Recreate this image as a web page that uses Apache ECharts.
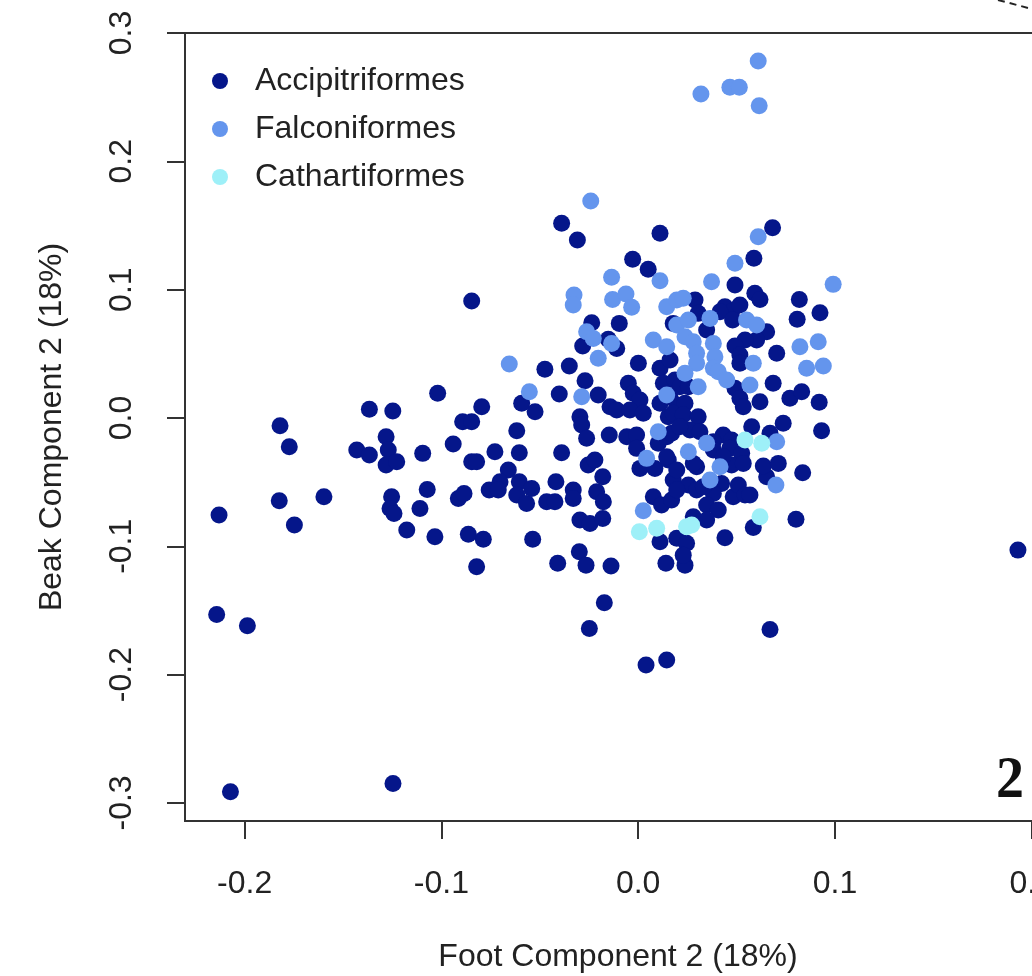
<!DOCTYPE html>
<html>
<head>
<meta charset="utf-8">
<script src="https://cdn.jsdelivr.net/npm/echarts@6/dist/echarts.min.js"></script>
<style>
  html, body { margin: 0; padding: 0; background: #fff; }
  #chart { width: 1032px; height: 976px; }
</style>
</head>
<body>
<div id="chart"></div>
<script>
// tick positions
var xTicks = [-0.2, -0.1, 0.0, 0.1, 0.2];
var yTicks = [-0.3, -0.2, -0.1, 0.0, 0.1, 0.2, 0.3];

// [foot component 2, beak component 2]
var accipitriformes = [
  [-0.0389, 0.1517], [-0.0309, 0.1387], [0.0111, 0.1439], [0.0683, 0.1482],
  [-0.0846, 0.0911], [-0.1019, 0.0192], [-0.1366, 0.0067], [-0.1247, 0.0054], [-0.0795, 0.0087],
  [-0.1820, -0.0061], [-0.1773, -0.0224], [-0.0892, -0.0030], [-0.0846, -0.0030],
  [-0.1430, -0.0250], [-0.1366, -0.0289], [-0.1281, -0.0147], [-0.1270, -0.0250], [-0.1281, -0.0367], [-0.1227, -0.0341],
  [-0.1095, -0.0276], [-0.0940, -0.0203], [-0.0846, -0.0341], [-0.0821, -0.0341],
  [-0.1824, -0.0645], [-0.1597, -0.0614], [-0.2130, -0.0757], [-0.1747, -0.0835],
  [-0.1253, -0.0614], [-0.1261, -0.0705], [-0.1241, -0.0744], [-0.1072, -0.0557], [-0.1109, -0.0705],
  [-0.0914, -0.0627], [-0.0885, -0.0588], [-0.1176, -0.0874], [-0.1033, -0.0926], [-0.0863, -0.0907], [-0.0787, -0.0946],
  [-0.0821, -0.1160], [-0.2142, -0.1531], [-0.1986, -0.1620], [-0.0757, -0.0562],
  [-0.2072, -0.2913], [-0.1246, -0.2848],
  [-0.0028, 0.1236], [0.0051, 0.1158], [-0.0236, 0.0742], [-0.0096, 0.0737], [-0.0152, 0.0613], [-0.0109, 0.0542], [-0.0282, 0.0560],
  [0.0178, 0.0737], [-0.0474, 0.0379], [-0.0350, 0.0405], [0.0001, 0.0426], [0.0111, 0.0387], [0.0162, 0.0451],
  [-0.0270, 0.0290], [-0.0050, 0.0270], [0.0128, 0.0270], [0.0187, 0.0295],
  [-0.0592, 0.0114], [-0.0524, 0.0048], [-0.0401, 0.0186], [-0.0203, 0.0178], [-0.0025, 0.0192], [0.0009, 0.0140],
  [-0.0143, 0.0087], [-0.0109, 0.0062], [-0.0042, 0.0062], [0.0026, 0.0036], [-0.0296, 0.0009], [-0.0287, -0.0055],
  [0.0111, 0.0114], [0.0162, 0.0165], [0.0153, 0.0009], [-0.0617, -0.0100], [-0.0262, -0.0159], [-0.0147, -0.0133],
  [-0.0058, -0.0147], [-0.0008, -0.0133], [0.0145, -0.0147],
  [0.0588, 0.1244], [0.0492, 0.1036], [0.0593, 0.0971], [0.0619, 0.0924], [0.0819, 0.0924], [0.0924, 0.0820], [0.0808, 0.0769],
  [0.0289, 0.0919], [0.0441, 0.0867], [0.0475, 0.0828], [0.0416, 0.0828], [0.0480, 0.0763], [0.0305, 0.0815], [0.0517, 0.0880],
  [0.0348, 0.0685], [0.0653, 0.0672], [0.0602, 0.0607], [0.0543, 0.0607], [0.0492, 0.0560], [0.0704, 0.0504], [0.0517, 0.0490], [0.0517, 0.0426],
  [0.0212, 0.0243], [0.0255, 0.0243], [0.0686, 0.0270], [0.0492, 0.0231], [0.0517, 0.0153], [0.0534, 0.0087], [0.0619, 0.0126],
  [0.0771, 0.0153], [0.0831, 0.0204], [0.0920, 0.0122], [0.0196, 0.0101], [0.0238, 0.0114], [0.0178, 0.0036], [0.0229, 0.0023], [0.0305, 0.0009],
  [0.0263, -0.0094], [0.0314, -0.0108], [0.0737, -0.0042], [0.0577, -0.0069], [0.0932, -0.0100], [0.0432, -0.0133], [0.0475, -0.0172], [0.0670, -0.0120], [0.0382, -0.0186],
  [-0.0008, -0.0237], [0.0102, -0.0198], [0.0170, -0.0120], [0.0212, -0.0069],
  [-0.0728, -0.0263], [-0.0604, -0.0271], [-0.0389, -0.0271], [-0.0254, -0.0367], [-0.0220, -0.0328],
  [-0.0660, -0.0406], [-0.0702, -0.0497], [-0.0711, -0.0562], [-0.0604, -0.0497], [-0.0617, -0.0601], [-0.0567, -0.0666], [-0.0541, -0.0549],
  [-0.0418, -0.0497], [-0.0465, -0.0653], [-0.0423, -0.0653], [-0.0330, -0.0562], [-0.0330, -0.0627],
  [-0.0180, -0.0458], [-0.0211, -0.0575], [-0.0177, -0.0653], [-0.0296, -0.0796], [-0.0245, -0.0822], [-0.0180, -0.0783],
  [0.0009, -0.0393], [0.0085, -0.0393], [0.0153, -0.0328], [0.0178, -0.0484], [0.0077, -0.0614], [0.0119, -0.0679], [0.0170, -0.0640],
  [-0.0536, -0.0946], [0.0111, -0.0965], [0.0196, -0.0938], [-0.0299, -0.1043], [-0.0265, -0.1147], [-0.0409, -0.1133], [-0.0138, -0.1154], [0.0141, -0.1133],
  [-0.0172, -0.1440], [-0.0248, -0.1640], [0.0040, -0.1926], [0.0145, -0.1887],
  [0.0145, -0.0302], [0.0297, -0.0380], [0.0196, -0.0406], [0.0382, -0.0250], [0.0466, -0.0237], [0.0526, -0.0276], [0.0475, -0.0367],
  [0.0280, -0.0354], [0.0432, -0.0302], [0.0534, -0.0354], [0.0653, -0.0458],
  [0.0636, -0.0375], [0.0712, -0.0354], [0.0836, -0.0427], [0.0255, -0.0523], [0.0297, -0.0562], [0.0424, -0.0510], [0.0382, -0.0588],
  [0.0196, -0.0562], [0.0331, -0.0536], [0.0483, -0.0614],
  [0.0509, -0.0523], [0.0543, -0.0601], [0.0568, -0.0601], [0.0348, -0.0679], [0.0407, -0.0718], [0.0280, -0.0770], [0.0348, -0.0796],
  [0.0585, -0.0853], [0.0802, -0.0790], [0.0441, -0.0934], [0.0246, -0.0977], [0.0238, -0.1147], [0.0229, -0.1069], [0.0670, -0.1648],
  [0.1930, -0.1030]
];

var falconiformes = [
  [0.0610, 0.2782], [0.0319, 0.2525], [0.0466, 0.2577], [0.0514, 0.2577], [0.0615, 0.2433],
  [-0.0241, 0.1691], [0.0610, 0.1412], [-0.0135, 0.1096], [0.0111, 0.1069],
  [-0.0326, 0.0958], [-0.0330, 0.0880], [-0.0130, 0.0924], [-0.0062, 0.0966], [-0.0033, 0.0862],
  [0.0145, 0.0867], [0.0196, 0.0919], [-0.0262, 0.0672], [-0.0228, 0.0620], [-0.0135, 0.0581],
  [0.0077, 0.0607], [0.0145, 0.0555], [-0.0203, 0.0465], [-0.0655, 0.0420], [-0.0553, 0.0204],
  [-0.0287, 0.0165], [0.0145, 0.0178], [0.0102, -0.0108],
  [0.0492, 0.1205], [0.0373, 0.1062], [0.0991, 0.1041], [0.0229, 0.0932], [0.0365, 0.0776],
  [0.0196, 0.0724], [0.0255, 0.0763], [0.0551, 0.0763], [0.0602, 0.0724], [0.0238, 0.0633],
  [0.0280, 0.0594], [0.0382, 0.0581], [0.0822, 0.0555], [0.0915, 0.0594], [0.0585, 0.0426],
  [0.0297, 0.0504], [0.0297, 0.0426], [0.0390, 0.0477], [0.0382, 0.0387], [0.0856, 0.0387],
  [0.0941, 0.0405], [0.0238, 0.0348], [0.0407, 0.0360], [0.0450, 0.0295], [0.0305, 0.0243],
  [0.0568, 0.0256], [0.0704, -0.0186], [0.0043, -0.0315], [0.0026, -0.0723], [0.0348, -0.0198],
  [0.0255, -0.0263], [0.0416, -0.0380], [0.0700, -0.0523], [0.0365, -0.0484]
];

var cathartiformes = [
  [0.0543, -0.0172], [0.0628, -0.0198], [0.0006, -0.0887], [0.0094, -0.0860],
  [0.0272, -0.0835], [0.0246, -0.0848], [0.0619, -0.0770]
];

var font = "'Liberation Sans', Arial, sans-serif";
var ink = "#222";

var chart = echarts.init(document.getElementById("chart"));

function dots(name, data, color) {
  return {
    name: name,
    type: "scatter",
    data: data,
    symbol: "circle",
    symbolSize: 17,
    itemStyle: { color: color, opacity: 1 },
    emphasis: { disabled: true },
  };
}

chart.setOption({
  animation: false,
  backgroundColor: "#fff",
  textStyle: { fontFamily: font },
  legend: {
    orient: "vertical",
    left: 207,
    top: 60,
    icon: "circle",
    itemWidth: 60,
    itemHeight: 16,
    itemGap: 16,
    selectedMode: false,
    textStyle: { fontSize: 32, lineHeight: 32, color: ink, fontFamily: font },
    data: ["Accipitriformes", "Falconiformes", "Cathartiformes"],
  },
  // plot box, its right edge falls outside the picture
  grid: {
    left: 185,
    top: 33,
    width: 866,
    height: 788,
    outerBoundsMode: "none",
    containLabel: false,
    show: true,
    borderColor: "#333",
    borderWidth: 2,
  },
  xAxis: {
    type: "value",
    min: -0.2303,
    max: 0.2098,
    splitLine: { show: false },
    axisLine: { show: false, onZero: false },
    axisTick: {
      show: true,
      customValues: xTicks,
      length: 18,
      lineStyle: { color: "#333", width: 2 },
    },
    axisLabel: {
      customValues: xTicks,
      formatter: function (v) { return v.toFixed(1); },
      margin: 47,
      fontSize: 32,
      color: ink,
      fontFamily: font,
    },
    name: "Foot Component 2 (18%)",
    nameLocation: "middle",
    nameGap: 120,
    nameTextStyle: { fontSize: 32, color: ink, fontFamily: font },
  },
  yAxis: {
    type: "value",
    min: -0.3141,
    max: 0.3,
    splitLine: { show: false },
    axisLine: { show: false, onZero: false },
    axisTick: {
      show: true,
      customValues: yTicks,
      length: 18,
      lineStyle: { color: "#333", width: 2 },
    },
    axisLabel: {
      customValues: yTicks,
      formatter: function (v) { return v.toFixed(1); },
      rotate: 90,
      margin: 47,
      fontSize: 32,
      color: ink,
      fontFamily: font,
    },
    name: "Beak Component 2 (18%)",
    nameLocation: "middle",
    nameRotate: 90,
    nameGap: 117,
    nameTextStyle: { fontSize: 32, color: ink, fontFamily: font },
  },
  graphic: [
    {
      type: "text",
      left: 996,
      top: 752,
      scaleY: 1.05,
      style: {
        text: "2",
        font: "bold 56px 'Liberation Serif', 'Times New Roman', serif",
        fill: "#111",
      },
    },
    {
      type: "line",
      shape: { x1: 998, y1: 0, x2: 1032, y2: 9 },
      style: { stroke: "#222", lineWidth: 2, lineDash: [7, 5] },
    },
  ],
  series: [
    dots("Accipitriformes", accipitriformes, "#05168a"),
    dots("Falconiformes", falconiformes, "#6495ed"),
    dots("Cathartiformes", cathartiformes, "#9ef0f8"),
  ],
});
</script>
</body>
</html>
